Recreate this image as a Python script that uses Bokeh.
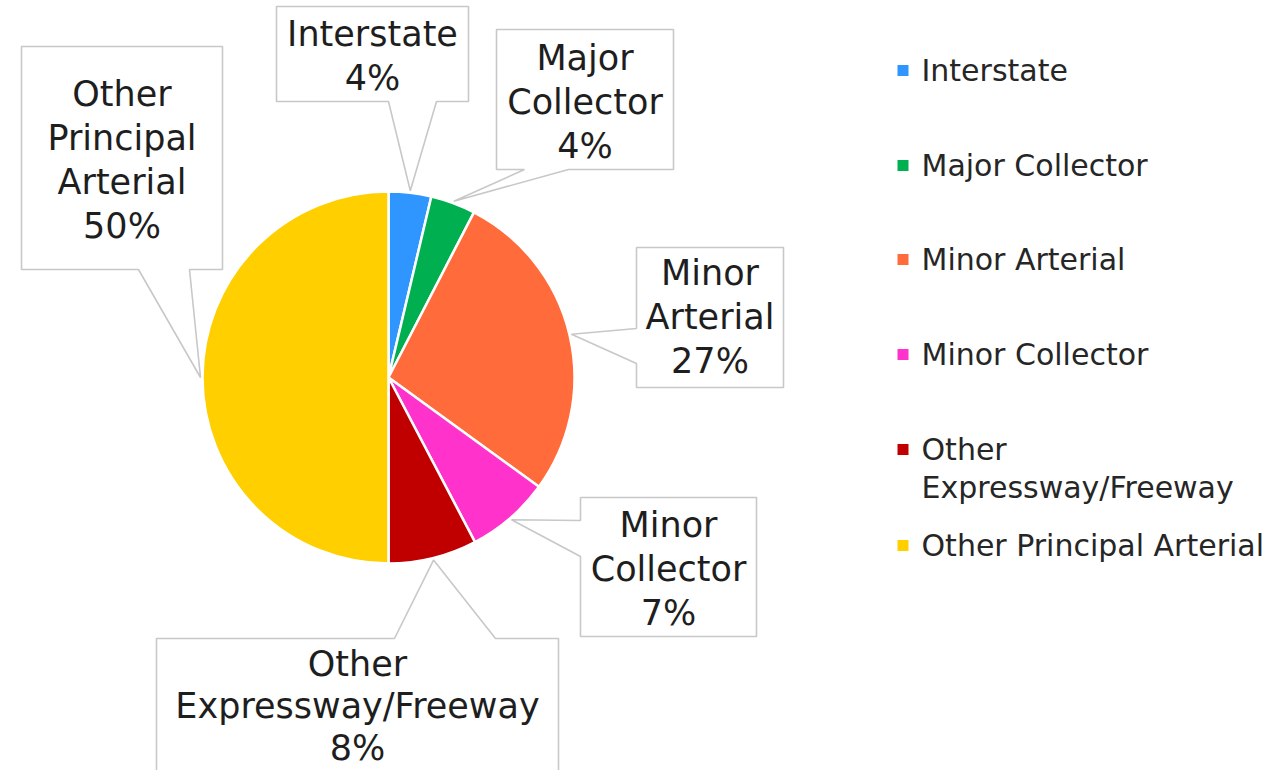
import math
from bokeh.plotting import figure
from bokeh.models import Range1d, ColumnDataSource
from bokeh.embed import file_html
from bokeh.resources import INLINE
from bokeh.core.properties import value

# ---------------- data ----------------
categories = ["Interstate", "Major Collector", "Minor Arterial",
              "Minor Collector", "Other Expressway/Freeway", "Other Principal Arterial"]
shares = [3.7, 3.9, 27.4, 7.3, 7.7, 50.0]
colors = ["#2F95FF", "#00B050", "#FF6B3A", "#FF33CC", "#C00000", "#FFCF00"]
label_names = [["Interstate"], ["Major", "Collector"], ["Minor", "Arterial"],
               ["Minor", "Collector"], ["Other", "Expressway/Freeway"],
               ["Other", "Principal", "Arterial"]]
legend_names = [["Interstate"], ["Major Collector"], ["Minor Arterial"],
                ["Minor Collector"], ["Other", "Expressway/Freeway"],
                ["Other Principal Arterial"]]

# ---------------- layout (page pixels) ----------------
W, H = 1273, 770
CX, CY, R = 388, 377, 186
FONT = value("DejaVu Sans")

# callout boxes: x0, y0, x1, y1 ; pointer edge and two attach coords
boxes = [(276, 6, 468, 101), (496, 29, 673, 169), (636, 247, 783, 387),
         (580, 497, 756, 636), (156, 638, 558, 800), (21, 46, 222, 269)]
pointers = [("bottom", 388, 436), ("bottom", 524, 568), ("left", 328, 363),
            ("left", 520, 556), ("top", 394, 495), ("bottom", 138, 189)]
first_line_y = [33, 57, 272, 524, 663, 93]
line_h = [44, 44, 44, 44, 42, 44]
legend_y = [70, 165, 259, 354, 449, 545]
LEGEND_LINE_H = 38

p = figure(width=W, height=H, output_backend="svg", toolbar_location=None,
           x_range=Range1d(0, W), y_range=Range1d(-H, 0),
           x_axis_location=None, y_axis_location=None, min_border=0)
p.grid.grid_line_color = None
p.outline_line_color = None
p.background_fill_color = "white"
p.border_fill_color = "white"

# ---------------- pie ----------------
total = sum(shares)
cum = [0.0]
for s in shares:
    cum.append(cum[-1] + s / total)
starts = [math.pi / 2 - 2 * math.pi * cum[i + 1] for i in range(len(shares))]
ends = [math.pi / 2 - 2 * math.pi * cum[i] for i in range(len(shares))]
src = ColumnDataSource(dict(start=starts, end=ends, color=colors, cat=categories))
p.wedge(x=CX, y=-CY, radius=R, start_angle="start", end_angle="end",
        direction="anticlock", fill_color="color", line_color="white",
        line_width=2.5, source=src)

# ---------------- callouts ----------------
xs, ys = [], []
tx, ty, tt = [], [], []
for i, (b, pt) in enumerate(zip(boxes, pointers)):
    mid = 2 * math.pi * (cum[i] + cum[i + 1]) / 2
    tipx = CX + (R + 2) * math.sin(mid)
    tipy = CY - (R + 2) * math.cos(mid)
    x0, y0, x1, y1 = b
    edge, a, c = pt
    if edge == "bottom":
        poly = [(x0, y0), (x1, y0), (x1, y1), (c, y1), (tipx, tipy), (a, y1), (x0, y1)]
    elif edge == "top":
        poly = [(x0, y0), (a, y0), (tipx, tipy), (c, y0), (x1, y0), (x1, y1), (x0, y1)]
    else:  # left
        poly = [(x0, y0), (x1, y0), (x1, y1), (x0, y1), (x0, c), (tipx, tipy), (x0, a)]
    xs.append([q[0] for q in poly])
    ys.append([-q[1] for q in poly])
    lines = label_names[i] + [f"{round(shares[i] / total * 100)}%"]
    for k, ln in enumerate(lines):
        tx.append((x0 + x1) / 2)
        ty.append(-(first_line_y[i] + k * line_h[i]))
        tt.append(ln)

p.patches(xs=xs, ys=ys, fill_color="white", line_color="#C8C8C8", line_width=1.6)
p.text(x=tx, y=ty, text=tt, text_font=FONT, text_font_size="35px",
       text_align="center", text_baseline="middle", text_color="#1E1E1E")

# ---------------- legend ----------------
lx, ly, lt = [], [], []
for i, names in enumerate(legend_names):
    for k, ln in enumerate(names):
        lx.append(921)
        ly.append(-(legend_y[i] + k * LEGEND_LINE_H))
        lt.append(ln)
p.rect(x=[902.5] * len(colors), y=[-v for v in legend_y], width=11, height=11,
       fill_color=colors, line_color=None)
p.text(x=lx, y=ly, text=lt, text_font=FONT, text_font_size="30px",
       text_align="left", text_baseline="middle", text_color="#262626")

open("out.html", "w").write(file_html(p, INLINE))
